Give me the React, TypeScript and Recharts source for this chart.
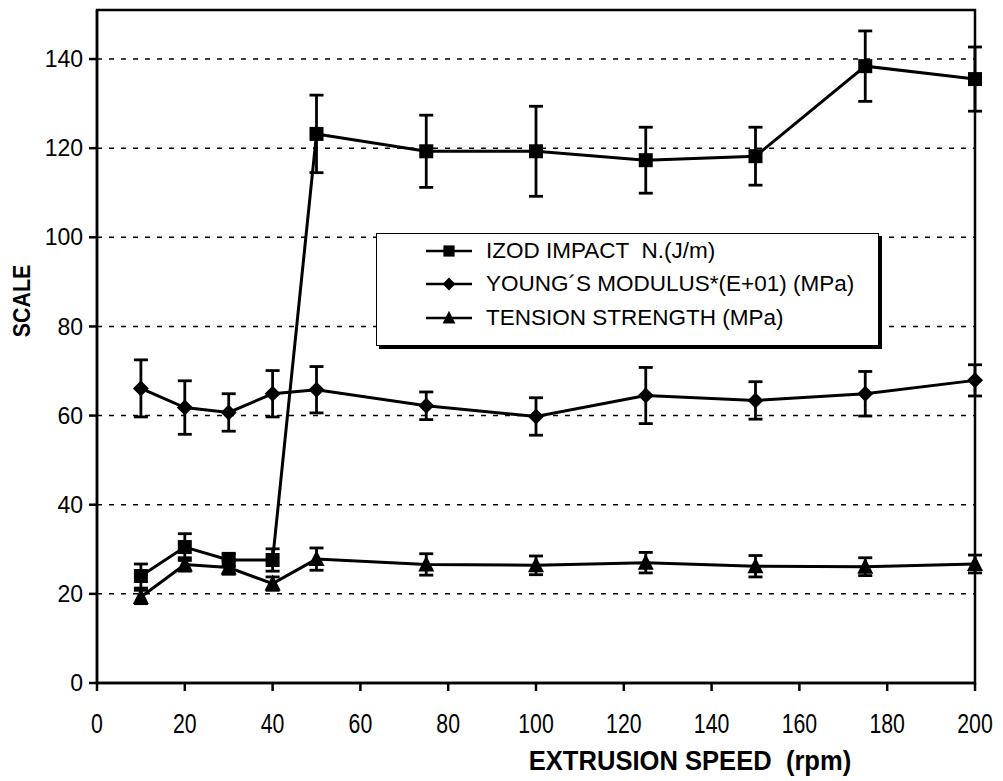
import React from 'react'
import {
  LineChart, Line, XAxis, YAxis, CartesianGrid, ErrorBar,
  ReferenceArea, Legend,
} from 'recharts'

const speeds = [10, 20, 30, 40, 50, 75, 100, 125, 150, 175, 200]

const izod = [24, 30.5, 27.6, 27.6, 123.2, 119.3, 119.3, 117.3, 118.2, 138.4, 135.5]
const izodErr = [2.7, 3, 1.5, 2.5, 8.7, 8.1, 10.1, 7.4, 6.5, 7.9, 7.2]

const young = [66.1, 61.8, 60.7, 64.9, 65.8, 62.2, 59.8, 64.5, 63.4, 64.9, 67.9]
const youngErr = [6.4, 6, 4.2, 5.2, 5.2, 3.1, 4.2, 6.3, 4.2, 5, 3.5]

const tension = [19.3, 26.6, 25.9, 22.3, 27.8, 26.6, 26.4, 27, 26.2, 26.1, 26.7]
const tensionErr = [1.5, 1.5, 1.5, 1.5, 2.5, 2.4, 2.1, 2.3, 2.4, 2, 2]

const xTicks = [0, 20, 40, 60, 80, 100, 120, 140, 160, 180, 200]
const yTicks = [0, 20, 40, 60, 80, 100, 120, 140]

const legendLabels = [
  'IZOD IMPACT  N.(J/m)',
  'YOUNG\u00B4S MODULUS*(E+01) (MPa)',
  'TENSION STRENGTH (MPa)',
]

const data = speeds.map((s, i) => ({
  speed: s,
  izod: izod[i],
  izodErr: izodErr[i],
  young: young[i],
  youngErr: youngErr[i],
  tension: tension[i],
  tensionErr: tensionErr[i],
}))

const INK = '#000'
const ARIAL = "'Liberation Sans', Arial, sans-serif"

type Shape = 'square' | 'diamond' | 'triangle'

function marker(shape: Shape, cx: number, cy: number, key?: string | number, s = 1) {
  if (shape === 'square') {
    return <rect key={key} x={cx - 7 * s} y={cy - 7 * s} width={14 * s} height={14 * s} fill={INK} />
  }
  if (shape === 'diamond') {
    return (
      <polygon key={key} points={`${cx},${cy - 8 * s} ${cx + 8 * s},${cy} ${cx},${cy + 8 * s} ${cx - 8 * s},${cy}`} fill={INK} />
    )
  }
  return (
    <polygon key={key} points={`${cx},${cy - 9 * s} ${cx + 8 * s},${cy + 7 * s} ${cx - 8 * s},${cy + 7 * s}`} fill={INK} />
  )
}

function dotFor(shape: Shape) {
  return (props: any) => {
    const { cx, cy, index } = props
    if (cx == null || cy == null) return <g key={`${shape}-${index}`} />
    return marker(shape, cx, cy, `${shape}-${index}`)
  }
}

// condensed-looking x tick labels (the original uses a narrow face)
function NarrowTick(props: any) {
  const { x, y, payload } = props
  return (
    <text
      transform={`translate(${x},${y + 20}) scale(0.76,1)`}
      textAnchor="middle"
      fontFamily={ARIAL}
      fontSize={28}
      fill={INK}
      dy="0.71em"
    >
      {payload.value}
    </text>
  )
}

const legendShapes: Shape[] = ['square', 'diamond', 'triangle']

function LegendBox() {
  return (
    <div
      style={{
        width: 503,
        height: 113,
        border: '1.5px solid #000',
        boxShadow: '3px 3px 0 #000',
        background: '#fff',
        boxSizing: 'border-box',
      }}
    >
      {legendLabels.map((label, i) => (
        <div key={label} style={{ display: 'flex', alignItems: 'center', height: 33.5 }}>
          <svg width={100} height={24} style={{ flexShrink: 0 }}>
            <line x1={49} x2={95} y1={12} y2={12} stroke={INK} strokeWidth={2.5} />
            {marker(legendShapes[i], 72, 12, undefined, 0.8)}
          </svg>
          <span style={{ fontFamily: ARIAL, fontSize: 22.5, color: INK, marginLeft: 9, whiteSpace: 'pre' }}>
            {label}
          </span>
        </div>
      ))}
    </div>
  )
}

export default function App() {
  return (
    <div style={{ position: 'absolute', left: 0, top: 0, background: '#fff' }}>
      <LineChart
        width={1003}
        height={781}
        data={data}
        margin={{ top: 10, right: 28, left: 27, bottom: 38 }}
      >
        <CartesianGrid vertical={false} stroke={INK} strokeWidth={1.5} strokeDasharray="5 7" />
        <XAxis
          dataKey="speed"
          type="number"
          domain={[0, 200]}
          ticks={xTicks}
          height={60}
          stroke={INK}
          strokeWidth={2.5}
          tickSize={8}
          tick={<NarrowTick />}
          label={{
            content: () => (
              <text
                transform="translate(690 770) scale(0.93,1)"
                textAnchor="middle"
                fontFamily={ARIAL}
                fontWeight="bold"
                fontSize={27.5}
                fill={INK}
                style={{ whiteSpace: 'pre' }}
              >
                EXTRUSION SPEED{'\u00A0\u00A0'}(rpm)
              </text>
            ),
          }}
        />
        <XAxis
          xAxisId="inner"
          type="number"
          domain={[0, 200]}
          ticks={xTicks}
          mirror
          tick={false}
          tickSize={8}
          axisLine={false}
          stroke={INK}
          strokeWidth={1.5}
          height={0}
        />
        <YAxis
          type="number"
          domain={[0, 151]}
          ticks={yTicks}
          width={70}
          stroke={INK}
          strokeWidth={2.5}
          tickSize={8}
          tickMargin={6}
          tick={{ fill: INK, fontSize: 23, fontFamily: ARIAL }}
          label={{
            content: () => (
              <text
                transform="translate(22 301) rotate(-90) scale(0.89,1)"
                textAnchor="middle"
                dominantBaseline="central"
                fontFamily={ARIAL}
                fontWeight="bold"
                fontSize={24}
                fill={INK}
              >
                SCALE
              </text>
            ),
          }}
        />
        <YAxis
          yAxisId="inner"
          type="number"
          domain={[0, 151]}
          ticks={yTicks}
          mirror
          tick={false}
          tickSize={8}
          axisLine={false}
          stroke={INK}
          strokeWidth={1.5}
          width={0}
        />
        <ReferenceArea x1={0} x2={200} y1={0} y2={151} fill="none" stroke={INK} strokeWidth={2.5} ifOverflow="visible" />
        <Line
          dataKey="izod"
          stroke={INK}
          strokeWidth={3}
          dot={dotFor('square')}
          activeDot={false}
          isAnimationActive={false}
        >
          <ErrorBar dataKey="izodErr" direction="y" width={7} stroke={INK} strokeWidth={2.8} isAnimationActive={false} />
        </Line>
        <Line
          dataKey="young"
          stroke={INK}
          strokeWidth={3}
          dot={dotFor('diamond')}
          activeDot={false}
          isAnimationActive={false}
        >
          <ErrorBar dataKey="youngErr" direction="y" width={7} stroke={INK} strokeWidth={2.8} isAnimationActive={false} />
        </Line>
        <Line
          dataKey="tension"
          stroke={INK}
          strokeWidth={3}
          dot={dotFor('triangle')}
          activeDot={false}
          isAnimationActive={false}
        >
          <ErrorBar dataKey="tensionErr" direction="y" width={7} stroke={INK} strokeWidth={2.8} isAnimationActive={false} />
        </Line>
        <Legend
          layout="horizontal"
          verticalAlign="middle"
          align="center"
          wrapperStyle={{ left: 376, top: 233, width: 503 }}
          content={() => <LegendBox />}
        />
      </LineChart>
    </div>
  )
}
